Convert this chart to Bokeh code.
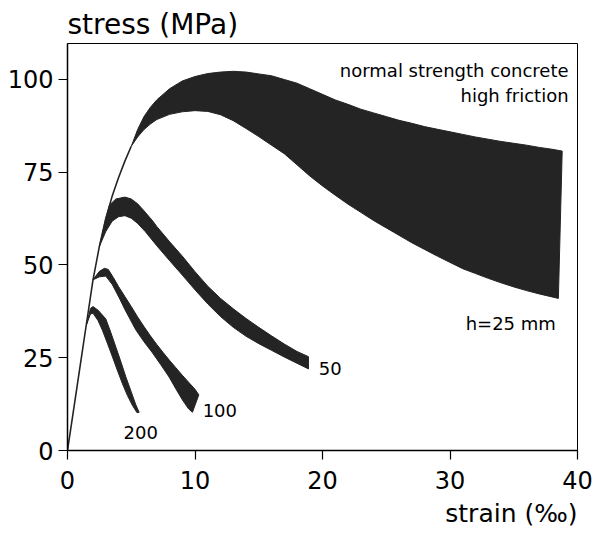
from bokeh.plotting import figure
from bokeh.models import Range1d, Label, FixedTicker, Title
from bokeh.embed import file_html
from bokeh.resources import INLINE

# ---- data (strain in permille, stress in MPa) ----
ascent_strain = [0, 0.5, 1.0, 1.5, 2.0, 2.5, 3.0, 3.5, 4.0, 4.5, 5.0]
ascent_stress = [0, 11.5, 23, 34.5, 46, 55, 62.5, 68.5, 73.5, 78, 82]

h25_upper_strain = [5.0, 5.5, 6.0, 6.5, 7, 8, 9, 10, 11, 12, 13, 14, 15, 16, 17, 18, 19, 20, 21, 22,
                    23, 24, 25, 26, 27, 28, 29, 30, 31, 32, 33, 34, 35, 36, 37, 38, 38.8]
h25_upper_stress = [82, 86.5, 90, 92.5, 94.5, 97.5, 99.6, 100.8, 101.6, 102, 102.2, 102, 101.5, 101, 100, 99, 97.5, 96, 94.5, 93.3,
                    92, 91, 90, 89, 88.2, 87.3, 86.6, 85.9, 85.2, 84.5, 83.9, 83.3, 82.8, 82.3, 81.7, 81.2, 80.7]
h25_lower_strain = [5.0, 5.5, 6.0, 6.5, 7, 8, 9, 10, 11, 12, 13, 14, 15, 16, 17, 18, 19, 20, 21, 22,
                    23, 24, 25, 26, 27, 28, 29, 30, 31, 32, 33, 34, 35, 36, 37, 38, 38.5]
h25_lower_stress = [82, 84.5, 86.5, 88, 89.2, 90.6, 91.3, 91.6, 91.4, 90.5, 88.9, 86.8, 84.6, 82.3, 80, 77, 74, 71.3, 68.8, 66.4,
                    64.2, 62, 60, 58, 56, 54.2, 52.4, 50.7, 49, 47.7, 46.4, 45.2, 44.1, 43.1, 42.2, 41.4, 41]

h50_upper_strain = [2.5, 3.0, 3.3, 3.8, 4.5, 5.0, 5.5, 6.0, 6.7, 7, 8, 9, 10, 11, 12, 13, 14, 15, 16, 17, 18, 18.9]
h50_upper_stress = [55, 62.5, 66.2, 67.8, 68.3, 67.8, 66.5, 64.6, 61.8, 60.4, 56.3, 52.4, 48.2, 44.3, 41, 38.2, 35.6, 33.2, 30.9, 28.7, 26.7, 25.3]
h50_lower_strain = [2.5, 3.0, 3.5, 4.0, 4.5, 5.0, 5.5, 6.1, 7, 8, 9, 10, 11, 12, 13, 14, 15, 16, 17, 18, 18.9]
h50_lower_stress = [55, 59, 61.8, 63, 63.3, 62.6, 61.2, 59, 55.2, 51.2, 47.3, 43.3, 39.5, 36.1, 33.2, 30.8, 28.8, 27, 25.2, 23.5, 22]

h100_upper_strain = [2.0, 2.5, 2.9, 3.2, 3.6, 4.0, 4.5, 5.0, 5.5, 6.0, 6.5, 7.0, 7.5, 8.0, 8.5, 9.0, 9.5, 10.0, 10.3]
h100_upper_stress = [46, 48.3, 49.1, 48.8, 46.6, 44.2, 41.5, 38.8, 36, 33.4, 30.9, 28.6, 26.4, 24.3, 22.3, 20.3, 18.4, 16.5, 15]
h100_lower_strain = [2.0, 2.5, 3.0, 3.5, 4.05, 4.5, 5.0, 5.36, 6.0, 6.67, 7.3, 7.97, 8.5, 9.02, 9.5, 9.8]
h100_lower_stress = [46, 46.8, 47, 44.8, 41.2, 38, 34.8, 32.5, 29.3, 26.3, 23.2, 19.8, 16.6, 13.6, 11.2, 10.3]

h200_upper_strain = [1.5, 1.8, 2.0, 2.4, 3.0, 3.4, 3.8, 4.2, 4.57, 5.0, 5.36, 5.62]
h200_upper_stress = [34, 38.3, 38.8, 37.8, 35.5, 31.8, 27.8, 23.8, 19.9, 15.8, 12.3, 10.3]
h200_lower_strain = [1.5, 1.8, 2.0, 2.4, 2.75, 3.15, 3.53, 3.9, 4.31, 4.7, 5.1, 5.45]
h200_lower_stress = [34, 36.8, 37, 35, 32.3, 28.7, 25.2, 21.7, 18, 14.8, 12.1, 10.2]

x_ticks = [0, 10, 20, 30, 40]
y_ticks = [0, 25, 50, 75, 100]

FONT = "DejaVu Sans"
BAND = "#242424"

p = figure(width=594, height=537, output_backend="svg", toolbar_location=None,
           x_range=Range1d(0, 40), y_range=Range1d(0, 109.7),
           min_border_left=67, min_border_right=17, min_border_top=43, min_border_bottom=87)
p.background_fill_color = "white"
p.border_fill_color = "white"
p.outline_line_color = "black"
p.outline_line_width = 1
p.xgrid.visible = False
p.ygrid.visible = False

p.title.text = "stress (MPa)"
p.title.align = "left"
p.title.vertical_align = "top"
p.title.text_font = FONT
p.title.text_font_size = "28px"
p.title.text_font_style = "normal"
p.title.text_color = "black"
p.title.standoff = 2

p.add_layout(Title(text="strain (‰)", align="right", text_font=FONT, text_font_size="25px",
                   text_font_style="normal", text_color="black"), "below")

for ax, ticks in ((p.xaxis[0], x_ticks), (p.yaxis[0], y_ticks)):
    ax.ticker = FixedTicker(ticks=ticks)
    ax.major_tick_in = 0
    ax.major_tick_out = 9
    ax.minor_tick_line_color = None
    ax.axis_line_width = 1.5
    ax.major_tick_line_width = 1.2
    ax.major_label_text_font = FONT
    ax.major_label_text_font_size = "24px"
    ax.major_label_text_color = "black"
p.xaxis[0].major_label_standoff = 11
p.yaxis[0].major_label_standoff = 5


def band(us, uy, ls, ly):
    xs = list(us) + list(reversed(ls))
    ys = list(uy) + list(reversed(ly))
    p.patch(xs, ys, fill_color=BAND, line_color=BAND, line_width=1)


band(h25_upper_strain, h25_upper_stress, h25_lower_strain, h25_lower_stress)
band(h50_upper_strain, h50_upper_stress, h50_lower_strain, h50_lower_stress)
band(h100_upper_strain, h100_upper_stress, h100_lower_strain, h100_lower_stress)
band(h200_upper_strain, h200_upper_stress, h200_lower_strain, h200_lower_stress)
p.line(ascent_strain, ascent_stress, line_color=BAND, line_width=1.6)

labels = [
    (39.3, 102.4, "normal strength concrete", "right", "18px"),
    (39.3, 95.7, "high friction", "right", "18px"),
    (38.3, 34.2, "h=25 mm", "right", "18px"),
    (19.7, 22.0, "50", "left", "18px"),
    (10.6, 10.8, "100", "left", "18px"),
    (4.4, 4.9, "200", "left", "18px"),
]
for x, y, t, al, fs in labels:
    p.add_layout(Label(x=x, y=y, text=t, text_align=al, text_baseline="middle",
                       text_font=FONT, text_font_size=fs, text_color="black"))

open("out.html", "w").write(file_html(p, INLINE))
